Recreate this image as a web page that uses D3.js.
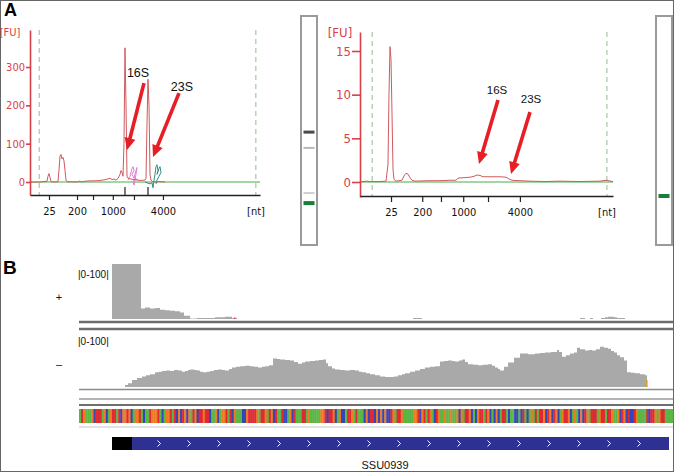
<!DOCTYPE html>
<html><head><meta charset="utf-8">
<script src="https://cdn.jsdelivr.net/npm/d3@7"></script>
<style>body{margin:0;background:#fff}svg{display:block}</style>
</head><body><svg id="c" width="675" height="472"></svg>
<script>
// ---------------- DATA ----------------
// Panel A: Bioanalyzer electropherograms (x = migration time [s], y = FU)
const ladderNt = [25, 200, 500, 1000, 2000, 4000];
const ladderLabels = ["25", "200", "", "1000", "", "4000"];
const ladderTimeLeft = [23.13, 29.22, 32.7, 37.0, 41.6, 47.9];
const ladderTimeRight = [25.13, 31.3, 35.0, 39.4, 44.3, 50.6];
const markerTimeLeft = [21.0, 68.1];
const markerTimeRight = [21.4, 67.8];
const peakTimeLeft = [39.65, 44.65];
const fuTicksLeft = [0, 100, 200, 300];
const fuTicksRight = [0, 5, 10, 15];

const traceLeft = [
  [19,0],[21.17,0],[22.04,1],[22.7,2],[22.91,15],[23.13,22],[23.35,12],[23.57,1],[24.43,0],
  [25.09,1],[25.3,30],[25.52,68],[25.74,72],[25.96,60],[26.17,64],[26.39,55],[26.61,30],[26.83,5],[27.04,1],
  [28.78,0],[29.65,1],[29.87,3],[30.09,0],[30.96,2],[32.04,3],[33.13,3],[34.22,4],[35.3,6],[35.96,8],
  [36.39,10],[36.83,6],[37.26,8],[37.7,5],[38.13,9],[38.57,20],[38.78,30],[39.0,25],[39.22,15],
  [39.43,100],[39.65,350],[39.87,200],[40.09,15],[40.3,10],[40.74,8],[41.83,6],[42.91,4],[44.0,5],
  [44.22,10],[44.43,150],[44.65,268],[44.87,200],[45.09,20],[45.3,5],[45.74,0],[47.26,1],[48.35,0]
];
const pinkLeft = [
  [40.3,5],[40.74,15],[41.17,35],[41.39,40],[41.61,30],[41.17,20],[41.61,10],[42.04,30],[42.26,38],
  [42.04,20],[41.83,5],[41.61,-8],[41.39,0],[41.83,10],[42.48,5]
];
const tealLeft = [
  [44.0,0],[44.65,-3],[45.09,-5],[45.52,-2],[45.74,-15],[45.96,5],[46.17,20],[46.39,40],[46.61,45],
  [46.83,30],[46.61,20],[47.04,35],[47.26,40],[47.48,25],[47.04,15],[46.61,5],[46.39,-5]
];
const traceRight = [
  [19,0],[20.38,0.1],[20.98,0.05],[22.95,0.05],[24.14,0.1],[24.53,2],[24.73,10],[24.93,15.5],[25.13,14],
  [25.32,8],[25.52,1.5],[25.72,0.3],[26.11,0.1],[27.3,0.2],[27.7,0.7],[28.09,1.0],[28.49,0.9],[28.88,0.5],
  [29.28,0.2],[29.87,0.1],[32.83,0.15],[34.81,0.15],[36.79,0.2],[37.97,0.2],[38.37,0.45],[39.75,0.5],
  [40.74,0.55],[41.53,0.65],[42.12,0.8],[42.72,0.75],[43.31,0.6],[44.69,0.6],[46.67,0.6],[47.85,0.55],
  [48.45,0.35],[49.04,0.2],[50.62,0.15],[52.6,0.1],[55.56,0.05],[58.53,0.1],[62.48,0.05],[66.43,0.1],
  [67.62,0.2],[69,0.05]
];
// arrow annotations: label position and arrow tail/tip (time, FU)
const annotLeft = [
  {label:"16S", lx:42.48, lv:274, tail:[43.78,258], tip:[40.09,83.5]},
  {label:"23S", lx:52.04, lv:237, tail:[51.39,232], tip:[45.74,65]}
];
const annotRight = [
  {label:"16S", lx:46.08, lv:10.1, tail:[46.27,9.4], tip:[42.52,2.06]},
  {label:"23S", lx:52.79, lv:9.05, tail:[52.6,8.0], tip:[48.84,0.92]}
];
// gel lane bands (position = % of lane from top)
const gelLeft = [
  {pos:50.7, color:"#4a4a4a", h:3},
  {pos:57.6, color:"#b8b8b8", h:2},
  {pos:77.3, color:"#d0d0d0", h:2},
  {pos:81.7, color:"#1b7f3c", h:4}
];
const gelRight = [
  {pos:78.6, color:"#1b7f3c", h:4}
];

// Panel B: strand coverage (bp start, depth), step profile
const coveragePlus = [
  [0,0],[66,100],[124,19],[132,21],[142,19],[152,20],[162,17],[172,16],[182,15],[192,14],[202,12],
  [210,6],[222,1],[236,2],[272,3],[292,4],[306,2],[316,0],[668,2],[686,0],[1002,2],[1012,0],[1022,2],
  [1028,0],[1044,2],[1052,3],[1058,4],[1070,3],[1076,2],[1092,0],[1188,0]
];
const coverageMinus = [
  [0,0],[92,4],[98,7],[106,13],[116,17],[126,20],[134,22],[142,24],[152,28],[160,29],[166,30],[174,31],
  [182,30],[190,32],[198,31],[206,29],[212,30],[218,32],[222,33],[230,32],[236,31],[242,29],[248,28],
  [256,29],[262,30],[270,32],[278,33],[286,32],[292,31],[300,34],[306,37],[314,38],[322,39],[332,40],
  [342,39],[350,38],[358,37],[366,38],[372,39],[380,41],[388,54],[396,53],[402,52],[412,51],[422,50],
  [430,47],[438,44],[446,46],[452,48],[462,49],[472,50],[480,51],[488,52],[494,45],[498,39],[506,35],
  [512,33],[522,32],[532,31],[542,32],[552,31],[560,29],[566,28],[574,26],[582,24],[592,22],[602,20],
  [612,19],[622,19],[630,20],[638,22],[646,24],[652,26],[662,29],[672,31],[682,34],[692,37],[702,38],
  [712,39],[722,48],[730,49],[738,50],[746,49],[752,48],[760,50],[766,52],[772,47],[778,43],[788,42],
  [798,41],[808,42],[818,43],[826,40],[832,37],[838,34],[842,31],[850,38],[858,46],[870,55],[882,63],
  [898,62],[912,63],[922,64],[932,65],[944,66],[956,70],[960,66],[966,57],[974,60],[982,63],[990,65],
  [996,74],[1002,71],[1012,69],[1020,70],[1026,69],[1034,71],[1042,76],[1050,74],[1058,72],[1064,68],
  [1070,65],[1076,60],[1082,56],[1090,50],[1096,28],[1104,27],[1112,26],[1122,24],[1132,22],[1136,0],[1188,0]
];
const sequence =
  "ATGAAAGCTTTAGCAGTTATCGGTGCAGGTACAATGGGTACAGGTATCGCTGCGATGCTTGTTCAAGCAGGTATCGAAACCGTTTTGATTGATGC" +
  "TAATCCAGCTAAATTAGAAAAAGGTCTTGCAGCCATTGATAAACGCTTCGCGCGCCTGATTGAAAAAGGTCGTATGACTGAAGAAGAAGCGATTGC" +
  "ACGTTATGCACGCATTACAACCACTACAGATATTGCTGCTGCAGTTGCAGACGCTGATTTAGTTATTGAAGCTGCTCCTGAAAATCTTGAGTTAAAA";
const baseColors = {A:"#5cb646", C:"#3546b8", G:"#ee7a24", T:"#e02a33"};
const gene = {name:"SSU0939", utrStart:66, cdsStart:106, end:1180, labelAt:612};
const trackSpan = [0, 1188];

// ---------------- DRAW ----------------
const svg = d3.select("#c");
const RED_AX = "#d8404a", ARROW = "#e61e26";
const condensed = "'DejaVu Sans Condensed','DejaVu Sans',sans-serif";
const arial = "'Liberation Sans',Arial,sans-serif";

svg.append("rect").attr("x",0.5).attr("y",0.5).attr("width",673).attr("height",471)
  .attr("fill","#fff").attr("stroke","#666").attr("stroke-width",1);

svg.append("text").attr("x",4).attr("y",16).text("A")
  .attr("font-family",arial).attr("font-weight","bold").attr("font-size",18);
svg.append("text").attr("x",3).attr("y",274).text("B")
  .attr("font-family",arial).attr("font-weight","bold").attr("font-size",19);

function arrow(g, x1, y1, x2, y2) {
  const a = Math.atan2(y2 - y1, x2 - x1), hl = 12, hw = 5.5;
  const bx = x2 - hl * Math.cos(a), by = y2 - hl * Math.sin(a);
  g.append("line").attr("x1",x1).attr("y1",y1).attr("x2",bx + 2*Math.cos(a)).attr("y2",by + 2*Math.sin(a))
    .attr("stroke",ARROW).attr("stroke-width",3.6);
  g.append("path").attr("d",
    `M${x2},${y2}L${bx + hw*Math.sin(a)},${by - hw*Math.cos(a)}L${bx - hw*Math.sin(a)},${by + hw*Math.cos(a)}Z`)
    .attr("fill",ARROW);
}

function bioChart(c) {
  const g = svg.append("g");
  const x = d3.scaleLinear().domain([19, 69]).range([c.x0, c.x1]);
  const yb = d3.scaleLinear().domain([0, c.refVal]).range([c.zeroY, c.refY]);
  const y = d3.scaleLinear().domain([yb.invert(c.axisBottom), yb.invert(c.axisTop)]).range([c.axisBottom, c.axisTop]);

  g.selectAll(".mk").data(c.markers).join("line")
    .attr("x1",d=>x(d)).attr("x2",d=>x(d)).attr("y1",c.axisTop).attr("y2",c.xAxisY)
    .attr("stroke","#93bb93").attr("stroke-width",1).attr("stroke-dasharray","5,4");
  g.append("line").attr("x1",c.x0).attr("x2",c.x1).attr("y1",y(0)).attr("y2",y(0))
    .attr("stroke","#a3d6a3").attr("stroke-width",2);

  const line = d3.line().x(d=>x(d[0])).y(d=>y(d[1]));
  (c.extra || []).forEach(e => {
    g.append("path").attr("d",line(e.data)).attr("fill","none").attr("stroke",e.color).attr("stroke-width",1);
  });
  g.append("path").attr("d",line(c.trace)).attr("fill","none").attr("stroke","#d05a5e").attr("stroke-width",1);

  const ya = g.append("g").attr("transform",`translate(${c.x0},0)`)
    .call(d3.axisLeft(y).tickValues(c.fuTicks).tickSize(c.yTick).tickSizeOuter(0).tickPadding(1));
  ya.select(".domain").attr("stroke",RED_AX).attr("stroke-width",1.6);
  ya.selectAll(".tick line").attr("stroke",RED_AX).attr("stroke-width",1.6);
  ya.selectAll(".tick text").attr("fill",RED_AX).attr("font-family",condensed).attr("font-size",c.yFont);
  g.append("text").attr("x",c.fuX).attr("y",c.fuY).attr("text-anchor","middle").text("[FU]")
    .attr("fill",RED_AX).attr("font-family",condensed).attr("font-size",c.yFont);

  const xa = g.append("g").attr("transform",`translate(0,${c.xAxisY})`)
    .call(d3.axisBottom(x).tickValues(c.ladder).tickSize(c.xTick).tickSizeOuter(0).tickPadding(c.xPad)
      .tickFormat((d,i)=>ladderLabels[i]));
  xa.select(".domain").attr("stroke","#222").attr("stroke-width",1.6);
  xa.selectAll(".tick line").attr("stroke","#222").attr("stroke-width",1.2);
  xa.selectAll(".tick text").attr("fill","#111").attr("font-family",condensed).attr("font-size",11);
  g.append("text").attr("x",c.ntX).attr("y",c.xAxisY + c.xTick + c.xPad + 8).attr("text-anchor","middle").text("[nt]")
    .attr("fill","#111").attr("font-family",condensed).attr("font-size",11);
  (c.peaks || []).forEach(p => {
    g.append("line").attr("x1",x(p)).attr("x2",x(p)).attr("y1",c.xAxisY - 8).attr("y2",c.xAxisY)
      .attr("stroke","#222").attr("stroke-width",1.2);
  });

  c.annot.forEach(a => {
    g.append("text").attr("x",x(a.lx)).attr("y",yb(a.lv)).attr("text-anchor","middle").text(a.label)
      .attr("font-family",arial).attr("font-size",c.annotFont).attr("fill","#111");
    arrow(g, x(a.tail[0]), yb(a.tail[1]), x(a.tip[0]), yb(a.tip[1]));
  });
}

bioChart({x0:30, x1:260, zeroY:182, refVal:300, refY:67, axisTop:30, axisBottom:195, xAxisY:195,
  fuTicks:fuTicksLeft, yTick:4, yFont:11, fuX:10, fuY:36, ladder:ladderTimeLeft, xTick:5, xPad:7, ntX:256,
  markers:markerTimeLeft, trace:traceLeft, peaks:peakTimeLeft, annot:annotLeft, annotFont:12.5,
  extra:[{data:pinkLeft,color:"#e47ad2"},{data:tealLeft,color:"#2e8c86"}]});
bioChart({x0:360, x1:613, zeroY:182, refVal:15, refY:51, axisTop:32, axisBottom:197, xAxisY:196,
  fuTicks:fuTicksRight, yTick:8, yFont:13, fuX:340, fuY:37, ladder:ladderTimeRight, xTick:6, xPad:6, ntX:607,
  markers:markerTimeRight, trace:traceRight, annot:annotRight, annotFont:11.5});

function lane(x0, bands) {
  const g = svg.append("g");
  const ly = d3.scaleLinear().domain([0, 100]).range([16, 245]);
  g.append("rect").attr("x",x0).attr("y",ly(0)).attr("width",16).attr("height",ly(100)-ly(0))
    .attr("fill","#fff").attr("stroke","#9a9a9a").attr("stroke-width",2);
  g.selectAll(".b").data(bands).join("rect")
    .attr("x",x0+2.5).attr("width",11).attr("y",d=>ly(d.pos)-d.h/2).attr("height",d=>d.h)
    .attr("fill",d=>d.color);
}
lane(301, gelLeft);
lane(656, gelRight);

// ---------- Panel B ----------
const gx = d3.scaleLinear().domain(trackSpan).range([79, 673]);
const yPlus = d3.scaleLinear().domain([0, 100]).range([319, 264]).clamp(true);
const yMinus = d3.scaleLinear().domain([0, 100]).range([387, 334]).clamp(true);
const B = svg.append("g");
const covArea = ys => d3.area().x(d=>gx(d[0])).y0(ys(0)).y1(d=>ys(d[1])).curve(d3.curveStepAfter);
B.append("path").attr("d",covArea(yPlus)(coveragePlus)).attr("fill","#a9a9a9");
B.append("path").attr("d",covArea(yMinus)(coverageMinus)).attr("fill","#a9a9a9");
B.append("rect").attr("x",gx(310)).attr("y",yPlus(3)).attr("width",1.5).attr("height",yPlus(0)-yPlus(3)).attr("fill","#e05070");
B.append("rect").attr("x",gx(1136)-1).attr("y",yMinus(13)).attr("width",1.6).attr("height",yMinus(0)-yMinus(13)).attr("fill","#e39a2a");

const labelStyle = s => s.attr("font-family",arial).attr("fill","#111");
labelStyle(B.append("text").attr("x",78).attr("y",278).attr("font-size",10).text("|0-100|"));
labelStyle(B.append("text").attr("x",78).attr("y",345).attr("font-size",10).text("|0-100|"));
labelStyle(B.append("text").attr("x",59).attr("y",301).attr("text-anchor","middle").attr("font-size",11).text("+"));
labelStyle(B.append("text").attr("x",59).attr("y",368).attr("text-anchor","middle").attr("font-size",11).text("\u2013"));

const seps = [
  {y:322, w:2.6, c:"#6c6c6c"}, {y:329, w:2.6, c:"#6c6c6c"},
  {y:389.5, w:1.6, c:"#8a8a8a"}, {y:399, w:1.4, c:"#9a9a9a"}, {y:405, w:2.2, c:"#707070"},
  {y:427, w:1, c:"#c4c4c4"}
];
B.selectAll(".sep").data(seps).join("line")
  .attr("x1",gx(trackSpan[0])).attr("x2",gx(trackSpan[1]))
  .attr("y1",d=>d.y).attr("y2",d=>d.y).attr("stroke",d=>d.c).attr("stroke-width",d=>d.w);

const bases = sequence.split("");
const sx = d3.scaleBand().domain(d3.range(bases.length)).range([gx(trackSpan[0]), gx(trackSpan[1])]);
B.selectAll(".base").data(bases).join("rect")
  .attr("x",(d,i)=>sx(i)).attr("width",sx.bandwidth()+0.4).attr("y",409).attr("height",14)
  .attr("fill",d=>baseColors[d]);

B.append("rect").attr("x",gx(gene.utrStart)).attr("y",437).attr("width",gx(gene.cdsStart)-gx(gene.utrStart)).attr("height",13).attr("fill","#000");
B.append("rect").attr("x",gx(gene.cdsStart)).attr("y",437).attr("width",gx(gene.end)-gx(gene.cdsStart)).attr("height",13).attr("fill","#2e3192");
B.selectAll(".chev").data(d3.range(160, 1130, 60)).join("path")
  .attr("d",d=>`M${gx(d)-1.5},${440.5}L${gx(d)+1.5},${443.5}L${gx(d)-1.5},${446.5}`)
  .attr("fill","none").attr("stroke","#ffffff").attr("stroke-width",1);
labelStyle(B.append("text").attr("x",gx(gene.labelAt)).attr("y",469).attr("text-anchor","middle").attr("font-size",11).text(gene.name));
</script></body></html>
